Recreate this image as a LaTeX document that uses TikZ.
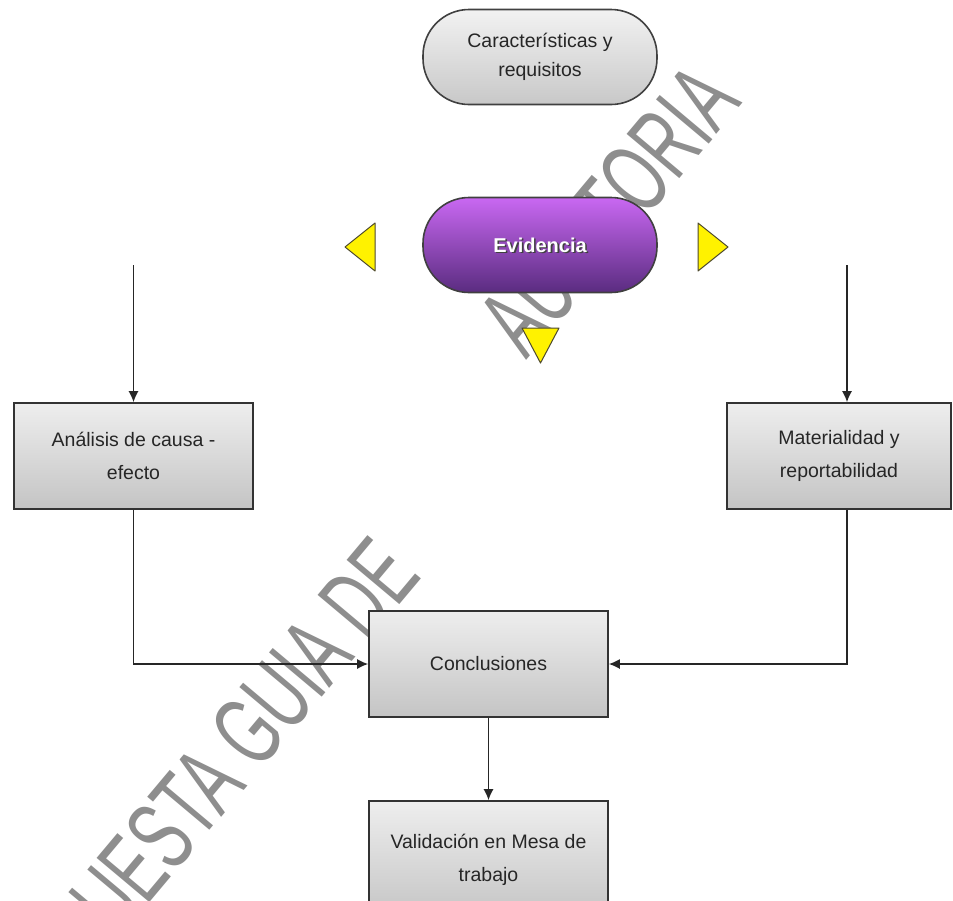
\documentclass[tikz,border=0pt]{standalone}
\usepackage{fontspec}
\setmainfont{Liberation Sans}
\usetikzlibrary{arrows.meta}

\definecolor{boxtop}{HTML}{EEEEEE}
\definecolor{boxbot}{HTML}{C4C4C4}
\definecolor{pilltop}{HTML}{F2F2F2}
\definecolor{pillbot}{HTML}{C8C8C8}
\definecolor{evtop}{HTML}{C968F2}
\definecolor{evbot}{HTML}{5A2C80}
\definecolor{stampgray}{HTML}{8E8E8E}

\begin{document}
\begin{tikzpicture}[x=1pt, y=-1pt,
  proc/.style={draw=black!80, line width=1.6pt, top color=boxtop, bottom color=boxbot,
    minimum width=239pt, minimum height=106pt, align=center, text=black!85,
    font=\fontsize{19.5}{33}\selectfont},
  pill/.style={draw=black!75, line width=1.6pt, rounded corners=46pt,
    minimum width=234pt, minimum height=95pt, align=center, text=black!85,
    font=\fontsize{19.5}{29}\selectfont},
  link/.style={draw=black!85, line width=1.5pt, -{Latex[length=11pt,width=10pt]}},
  pointer/.style={fill=yellow, draw=black!60!olive, line width=1pt, line join=round},
  stamp/.style={text=stampgray, font=\fontsize{100}{100}\selectfont, rotate=50, inner sep=0pt}
]
  \def\pw{953} \def\ph{900}
  \useasboundingbox (0,0) rectangle (\pw,\ph);
  \fill[white] (0,0) rectangle (\pw,\ph);
  \clip (0,0) rectangle (\pw,\ph);

  % watermark
  \node[stamp, anchor=base east] (marcaA) at (743,103) {\scalebox{0.62}[1]{AUDITORIA}};
  \node[stamp, anchor=base east] (marcaB) at (423,577) {\scalebox{0.62}[1]{PROPUESTA GUIA DE}};

  \node[pill, top color=pilltop, bottom color=pillbot] (rasgos) at (540,57) {Características y\\requisitos};
  \node[pill, top color=evtop, bottom color=evbot] (evidencia) at (540,245) {};
  \node[text=black!75, font=\bfseries\fontsize{20}{24}\selectfont] (evsombra) at ([shift={(1.6,1.6)}]evidencia.center) {Evidencia};
  \node[text=white, font=\bfseries\fontsize{20}{24}\selectfont] (evtexto) at (evidencia.center) {Evidencia};

  \filldraw[pointer] (375,223) -- (345,247) -- (375,271) -- cycle;
  \filldraw[pointer] (698,223) -- (728,247) -- (698,271) -- cycle;
  \filldraw[pointer] (522,328) -- (559,328) -- (540.5,363) -- cycle;

  \node[proc] (causa) at (133.5,456) {Análisis de causa -\\efecto};
  \node[proc, minimum width=224pt] (material) at (839,456) {Materialidad y\\reportabilidad};
  \node[proc] (conclus) at (488.5,664) {Conclusiones};
  \node[proc, minimum height=118pt] (valida) at (488.5,860) {Validación en Mesa de\\trabajo};

  \coordinate (inicioL) at (133.5,265);
  \coordinate (inicioR) at (847,265);
  \draw[link] (inicioL) -- (causa.north);
  \draw[link] (inicioR) -- (inicioR |- material.north);
  \draw[link] (causa.south) |- (conclus.west);
  \draw[link] (inicioR |- material.south) |- (conclus.east);
  \draw[link] (conclus) -- (valida);
\end{tikzpicture}
\end{document}
